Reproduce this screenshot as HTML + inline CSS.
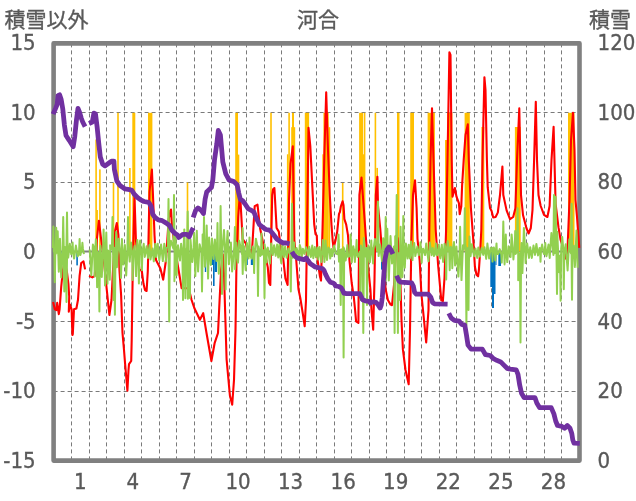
<!DOCTYPE html>
<html><head><meta charset="utf-8"><title>河合</title>
<style>html,body{margin:0;padding:0;background:#fff;}#c{position:relative;width:636px;height:501px;overflow:hidden;background:#fff;}</style>
</head><body><div id="c">
<svg width="636" height="501" viewBox="0 0 636 501" style="position:absolute;left:0;top:0"><line x1="71.5" y1="43.4" x2="71.5" y2="460.6" stroke="#7a7a7a" stroke-width="1" stroke-dasharray="4,3"/><line x1="89.5" y1="43.4" x2="89.5" y2="460.6" stroke="#7a7a7a" stroke-width="1" stroke-dasharray="4,3"/><line x1="106.5" y1="43.4" x2="106.5" y2="460.6" stroke="#7a7a7a" stroke-width="1" stroke-dasharray="4,3"/><line x1="124.5" y1="43.4" x2="124.5" y2="460.6" stroke="#7a7a7a" stroke-width="1" stroke-dasharray="4,3"/><line x1="141.5" y1="43.4" x2="141.5" y2="460.6" stroke="#7a7a7a" stroke-width="1" stroke-dasharray="4,3"/><line x1="159.5" y1="43.4" x2="159.5" y2="460.6" stroke="#7a7a7a" stroke-width="1" stroke-dasharray="4,3"/><line x1="176.5" y1="43.4" x2="176.5" y2="460.6" stroke="#7a7a7a" stroke-width="1" stroke-dasharray="4,3"/><line x1="194.5" y1="43.4" x2="194.5" y2="460.6" stroke="#7a7a7a" stroke-width="1" stroke-dasharray="4,3"/><line x1="211.5" y1="43.4" x2="211.5" y2="460.6" stroke="#7a7a7a" stroke-width="1" stroke-dasharray="4,3"/><line x1="229.5" y1="43.4" x2="229.5" y2="460.6" stroke="#7a7a7a" stroke-width="1" stroke-dasharray="4,3"/><line x1="246.5" y1="43.4" x2="246.5" y2="460.6" stroke="#7a7a7a" stroke-width="1" stroke-dasharray="4,3"/><line x1="264.5" y1="43.4" x2="264.5" y2="460.6" stroke="#7a7a7a" stroke-width="1" stroke-dasharray="4,3"/><line x1="281.5" y1="43.4" x2="281.5" y2="460.6" stroke="#7a7a7a" stroke-width="1" stroke-dasharray="4,3"/><line x1="299.5" y1="43.4" x2="299.5" y2="460.6" stroke="#7a7a7a" stroke-width="1" stroke-dasharray="4,3"/><line x1="316.5" y1="43.4" x2="316.5" y2="460.6" stroke="#7a7a7a" stroke-width="1" stroke-dasharray="4,3"/><line x1="334.5" y1="43.4" x2="334.5" y2="460.6" stroke="#7a7a7a" stroke-width="1" stroke-dasharray="4,3"/><line x1="351.5" y1="43.4" x2="351.5" y2="460.6" stroke="#7a7a7a" stroke-width="1" stroke-dasharray="4,3"/><line x1="369.5" y1="43.4" x2="369.5" y2="460.6" stroke="#7a7a7a" stroke-width="1" stroke-dasharray="4,3"/><line x1="386.5" y1="43.4" x2="386.5" y2="460.6" stroke="#7a7a7a" stroke-width="1" stroke-dasharray="4,3"/><line x1="404.5" y1="43.4" x2="404.5" y2="460.6" stroke="#7a7a7a" stroke-width="1" stroke-dasharray="4,3"/><line x1="421.5" y1="43.4" x2="421.5" y2="460.6" stroke="#7a7a7a" stroke-width="1" stroke-dasharray="4,3"/><line x1="439.5" y1="43.4" x2="439.5" y2="460.6" stroke="#7a7a7a" stroke-width="1" stroke-dasharray="4,3"/><line x1="456.5" y1="43.4" x2="456.5" y2="460.6" stroke="#7a7a7a" stroke-width="1" stroke-dasharray="4,3"/><line x1="474.5" y1="43.4" x2="474.5" y2="460.6" stroke="#7a7a7a" stroke-width="1" stroke-dasharray="4,3"/><line x1="491.5" y1="43.4" x2="491.5" y2="460.6" stroke="#7a7a7a" stroke-width="1" stroke-dasharray="4,3"/><line x1="509.5" y1="43.4" x2="509.5" y2="460.6" stroke="#7a7a7a" stroke-width="1" stroke-dasharray="4,3"/><line x1="526.5" y1="43.4" x2="526.5" y2="460.6" stroke="#7a7a7a" stroke-width="1" stroke-dasharray="4,3"/><line x1="544.5" y1="43.4" x2="544.5" y2="460.6" stroke="#7a7a7a" stroke-width="1" stroke-dasharray="4,3"/><line x1="561.5" y1="43.4" x2="561.5" y2="460.6" stroke="#7a7a7a" stroke-width="1" stroke-dasharray="4,3"/><line x1="53.6" y1="112.5" x2="579.5" y2="112.5" stroke="#7a7a7a" stroke-width="1" stroke-dasharray="4,3"/><line x1="53.6" y1="182.5" x2="579.5" y2="182.5" stroke="#7a7a7a" stroke-width="1" stroke-dasharray="4,3"/><line x1="53.6" y1="321.5" x2="579.5" y2="321.5" stroke="#7a7a7a" stroke-width="1" stroke-dasharray="4,3"/><line x1="53.6" y1="391.5" x2="579.5" y2="391.5" stroke="#7a7a7a" stroke-width="1" stroke-dasharray="4,3"/><rect x="53.6" y="43.4" width="525.9" height="417.2" fill="none" stroke="#808080" stroke-width="4.6" stroke-linejoin="round"/><line x1="53.6" y1="251.5" x2="579.5" y2="251.5" stroke="#808080" stroke-width="2"/><rect x="95.3" y="139.5" width="1.6" height="112.0" fill="#FFC000"/><rect x="96.3" y="210.0" width="1.6" height="41.5" fill="#FFC000"/><rect x="99.1" y="169.4" width="1.6" height="82.1" fill="#FFC000"/><rect x="112.7" y="183.0" width="1.6" height="68.5" fill="#FFC000"/><rect x="117.2" y="112.8" width="1.6" height="138.7" fill="#FFC000"/><rect x="129.1" y="168.0" width="1.6" height="83.5" fill="#FFC000"/><rect x="132.3" y="112.8" width="3.0" height="138.7" fill="#FFC000"/><rect x="148.0" y="112.8" width="4.4" height="138.7" fill="#FFC000"/><rect x="168.7" y="210.0" width="1.6" height="41.5" fill="#FFC000"/><rect x="186.7" y="182.5" width="1.6" height="69.0" fill="#FFC000"/><rect x="235.2" y="112.8" width="2.8" height="138.7" fill="#FFC000"/><rect x="237.7" y="154.6" width="1.6" height="96.9" fill="#FFC000"/><rect x="270.2" y="112.8" width="1.6" height="138.7" fill="#FFC000"/><rect x="286.9" y="154.3" width="1.6" height="97.2" fill="#FFC000"/><rect x="288.3" y="112.8" width="1.6" height="138.7" fill="#FFC000"/><rect x="291.2" y="127.2" width="4.0" height="124.3" fill="#FFC000"/><rect x="292.0" y="112.8" width="2.0" height="138.7" fill="#FFC000"/><rect x="304.8" y="112.8" width="4.3" height="138.7" fill="#FFC000"/><rect x="322.3" y="154.3" width="1.6" height="97.2" fill="#FFC000"/><rect x="323.4" y="112.8" width="5.3" height="138.7" fill="#FFC000"/><rect x="328.6" y="127.2" width="1.6" height="124.3" fill="#FFC000"/><rect x="359.1" y="112.8" width="4.0" height="138.7" fill="#FFC000"/><rect x="362.8" y="154.3" width="1.6" height="97.2" fill="#FFC000"/><rect x="363.8" y="112.8" width="1.6" height="138.7" fill="#FFC000"/><rect x="374.6" y="112.8" width="1.6" height="138.7" fill="#FFC000"/><rect x="341.9" y="183.0" width="1.6" height="68.5" fill="#FFC000"/><rect x="376.4" y="167.9" width="1.6" height="83.6" fill="#FFC000"/><rect x="397.0" y="112.8" width="2.5" height="138.7" fill="#FFC000"/><rect x="410.2" y="112.8" width="3.8" height="138.7" fill="#FFC000"/><rect x="427.6" y="112.8" width="7.3" height="138.7" fill="#FFC000"/><rect x="445.0" y="140.0" width="2.0" height="111.5" fill="#FFC000"/><rect x="447.0" y="112.8" width="5.4" height="138.7" fill="#FFC000"/><rect x="464.6" y="112.8" width="5.2" height="138.7" fill="#FFC000"/><rect x="481.4" y="127.0" width="2.9" height="124.5" fill="#FFC000"/><rect x="514.9" y="127.0" width="5.8" height="124.5" fill="#FFC000"/><rect x="568.0" y="112.8" width="6.5" height="138.7" fill="#FFC000"/><rect x="61.5" y="251.5" width="1.0" height="5.9" fill="#0070C0"/><rect x="76.3" y="251.5" width="1.6" height="13.9" fill="#0070C0"/><rect x="92.0" y="251.5" width="1.0" height="5.5" fill="#0070C0"/><rect x="204.8" y="251.5" width="1.4" height="20.5" fill="#0070C0"/><rect x="210.0" y="251.5" width="3.0" height="13.5" fill="#0070C0"/><rect x="213.0" y="251.5" width="1.6" height="34.5" fill="#0070C0"/><rect x="214.6" y="251.5" width="2.4" height="20.5" fill="#0070C0"/><rect x="246.3" y="251.5" width="1.5" height="13.5" fill="#0070C0"/><rect x="250.8" y="251.5" width="3.0" height="13.5" fill="#0070C0"/><rect x="381.0" y="251.5" width="1.5" height="18.1" fill="#0070C0"/><rect x="490.3" y="251.5" width="1.7" height="35.5" fill="#0070C0"/><rect x="492.0" y="251.5" width="2.0" height="56.5" fill="#0070C0"/><rect x="494.0" y="251.5" width="1.5" height="42.5" fill="#0070C0"/><rect x="495.5" y="251.5" width="1.0" height="13.5" fill="#0070C0"/><rect x="498.3" y="251.5" width="2.7" height="14.5" fill="#0070C0"/><rect x="558.0" y="251.5" width="1.0" height="3.5" fill="#0070C0"/><polyline points="53.1,302.1 54.8,309.3 56.4,310.1 57.2,302.9 58.8,314.1 59.6,309.3 61.2,287.0 62.8,271.0 64.6,262.0 66.8,271.0 68.4,283.8 69.2,296.5 68.8,311.7 70.0,304.5 71.6,309.3 72.4,335.0 72.8,334.0 74.0,309.3 76.4,308.5 78.0,299.7 79.6,275.8 81.2,263.0 83.5,261.4 85.1,269.4" fill="none" stroke="#FF0000" stroke-width="2.1" stroke-linejoin="round"/><polyline points="89.1,275.8 92.3,277.4 94.7,275.8 96.3,255.0 96.8,240.0 98.9,220.7 100.8,236.7 103.8,260.0 106.6,288.2 109.4,315.0 111.5,300.0 113.0,270.0 114.5,245.0 115.2,230.3 116.8,223.1 118.4,235.0 119.5,271.0 121.1,295.0 122.5,333.0 124.0,350.0 125.0,362.6 126.5,380.0 127.4,390.6 128.5,370.0 129.0,364.2 131.2,361.0 131.7,340.0 132.3,300.0 132.6,280.0 133.0,255.0 134.5,197.0 135.9,240.0 137.9,258.2 139.5,269.4 141.8,271.0 143.5,283.8 145.0,290.0 146.6,291.0 147.8,271.0 148.2,255.0 149.5,192.0 151.9,169.6 153.5,208.0 154.5,235.0 156.0,260.0 160.4,268.4 163.2,279.7 166.0,260.0 168.7,219.0 171.0,209.5 171.9,224.0 174.5,245.8 178.8,271.2 181.6,288.2 188.7,288.2 191.6,300.0 194.3,308.0 199.9,319.8 203.2,313.2 206.5,333.0 211.4,361.0 214.7,342.8 218.0,333.0 219.6,300.0 221.2,268.4 222.8,254.3 224.0,274.0 226.6,359.3 229.9,395.5 232.2,404.7 234.0,380.0 235.5,330.0 236.5,261.0 238.2,217.0 239.5,199.0 240.6,203.0 242.6,239.0 245.8,243.3 247.6,251.4 250.2,249.9 251.9,252.8 254.7,206.1 257.5,204.7 260.0,228.0 262.3,239.0 265.6,256.5 267.8,267.4 269.0,283.0 270.3,285.0 272.2,195.0 273.1,189.2 274.4,188.0 276.6,228.0 278.8,231.6 281.0,249.9 283.2,258.6 285.4,278.4 287.6,285.0 289.0,200.0 290.5,163.9 292.8,146.3 294.3,240.0 296.3,261.0 298.5,289.4 300.3,298.0 302.8,313.7 304.7,326.3 306.0,300.0 307.5,200.0 308.5,127.8 310.3,146.0 311.6,172.0 312.9,198.0 314.2,224.0 315.5,234.0 316.8,235.6 317.7,261.0 319.9,276.2 321.0,280.6 322.5,230.0 324.5,150.0 326.2,92.4 328.0,150.0 329.8,195.0 331.5,225.0 332.7,240.8 333.6,248.0 335.4,240.8 337.2,231.8 339.0,213.9 339.9,212.0 340.8,206.7 342.6,201.3 343.5,204.9 344.4,219.2 346.2,224.6 348.0,235.4 348.9,250.0 349.5,261.0 351.7,283.0 353.9,298.0 355.1,310.0 356.1,321.4 358.4,323.0 359.4,195.0 361.5,177.5 363.8,208.2 366.0,239.0 368.2,267.4 370.4,289.4 371.5,310.0 373.2,329.6 374.5,280.0 375.8,195.0 377.4,176.7 378.0,206.0 380.2,228.0 382.4,256.5 385.7,289.4 387.9,300.0 390.6,304.6 392.0,305.2 394.0,285.0 396.0,250.0 397.5,238.0 399.0,250.0 400.5,285.0 401.5,320.0 402.9,349.4 405.5,370.0 408.7,384.3 410.0,330.0 411.4,240.0 413.0,195.0 415.0,180.4 416.6,208.0 417.5,239.0 419.7,261.0 421.4,294.0 423.0,310.0 426.2,342.4 428.5,310.0 429.3,230.0 430.5,160.0 432.0,108.4 433.5,160.0 435.7,230.0 438.1,265.0 441.3,300.3 442.9,301.0 444.5,278.0 446.1,230.0 447.5,160.0 449.4,52.2 450.5,55.0 451.7,160.0 452.5,196.7 454.9,188.0 456.5,196.7 458.9,203.1 459.7,214.3 461.3,206.3 462.1,185.6 463.7,160.0 465.5,135.0 467.8,124.4 468.8,160.0 470.9,208.0 473.3,240.0 474.9,266.7 476.5,274.7 478.1,276.3 478.9,270.0 480.5,246.0 481.3,230.0 482.5,160.0 484.4,77.2 485.5,90.0 486.9,160.0 487.7,187.2 490.0,208.0 491.6,211.1 493.2,217.5 495.6,217.0 497.8,212.6 500.0,195.0 502.4,166.5 503.3,195.0 506.6,210.4 510.0,219.2 513.2,217.0 515.4,208.2 517.0,160.0 519.3,108.4 521.0,195.0 523.0,215.0 526.4,228.0 528.6,233.5 530.8,228.0 532.5,210.0 534.1,160.0 535.8,101.7 537.0,160.0 538.5,195.0 540.7,206.0 544.0,214.8 547.4,217.0 549.6,206.0 551.5,160.0 553.6,126.7 555.6,204.0 558.5,227.4 560.6,240.0 563.9,250.0 566.0,258.8 567.5,250.0 569.5,200.0 571.0,140.0 573.0,112.7 574.5,150.0 575.5,200.0 577.0,217.0 579.3,247.8" fill="none" stroke="#FF0000" stroke-width="2.1" stroke-linejoin="round"/><polyline points="52.9,248.1 53.4,226.6 53.9,251.8 54.3,247.8 54.8,282.3 55.3,251.0 55.7,254.1 56.2,227.8 56.7,248.5 57.1,252.8 57.7,231.2 58.3,256.0 58.2,250.5 58.8,271.8 59.4,256.3 60.0,238.7 61.2,277.4 62.6,252.9 63.2,217.0 63.8,250.2 63.7,247.1 64.3,291.6 64.9,247.1 65.9,253.3 66.5,302.0 67.1,250.8 66.4,252.4 67.0,212.6 67.6,251.0 68.2,257.6 69.8,243.7 71.2,254.2 72.1,247.8 72.6,242.6 73.1,252.8 74.1,258.6 75.9,245.6 77.7,256.3 79.0,253.5 79.6,239.0 80.2,253.0 80.4,255.1 81.9,248.8 82.4,242.8 82.9,248.4 83.9,254.2" fill="none" stroke="#92D050" stroke-width="2.0" stroke-linejoin="round"/><polyline points="89.7,249.5 91.3,275.4 92.9,244.5 94.1,248.0 94.7,276.6 95.3,248.3 95.9,239.3 96.6,250.5 97.1,287.3 97.6,252.0 98.8,253.4 99.4,311.5 100.0,251.7 100.5,245.7 101.8,277.0 103.1,248.0 103.6,229.4 104.1,248.0 104.5,247.9 105.0,285.6 105.5,247.5 105.8,247.7 106.3,232.6 106.8,254.5 107.0,250.3 107.5,283.7 108.0,250.4 109.2,255.0 109.8,279.7 110.4,256.4 110.1,245.3 111.9,249.1 112.5,217.0 113.1,254.8 113.1,246.7 113.7,300.0 114.3,256.0 114.3,248.0 114.9,314.8 115.5,251.9 116.2,231.9 116.9,267.3 118.6,238.7 120.4,254.6 121.0,278.0 121.6,256.3 121.9,238.9 123.2,264.5 124.9,245.0 126.2,275.4 127.4,250.1 128.0,217.0 128.6,248.7 129.7,261.6 131.0,242.6 132.2,254.8 132.7,279.9 133.2,253.8 134.6,245.9 136.1,276.1 137.3,239.9 138.4,254.0 138.9,283.6 139.4,248.7 140.1,240.6 141.4,255.3 141.9,270.1 142.4,252.7 143.7,243.8 144.8,256.9 146.6,246.3 148.0,257.9 149.5,244.9 150.5,259.5 152.5,248.6 153.8,261.3 155.2,243.8 156.2,256.9 157.7,243.7 159.3,260.3 161.1,244.6 162.8,261.1 164.3,243.7 165.4,251.0 165.9,261.5 166.4,248.1 167.9,247.2 168.5,199.0 169.1,253.2 168.6,255.5 169.2,321.4 169.8,248.0 170.9,240.8 173.4,248.7 174.0,195.0 174.6,256.0 174.4,281.3 175.5,235.1 176.6,275.2 178.0,245.3 180.0,260.4 181.1,243.7 182.4,254.3 183.0,300.0 183.6,249.2 184.3,229.4 184.9,252.1 185.4,298.2 185.9,253.1 187.1,247.1 187.7,211.5 188.3,253.4 187.4,252.6 187.9,298.7 188.4,253.9 189.3,255.1 189.9,298.0 190.5,247.2 190.5,239.6 192.3,261.9 193.6,247.9 194.1,233.1 194.6,249.1 195.3,276.1 196.3,247.6 196.8,230.7 197.3,249.5 198.1,271.4 199.6,244.2 201.4,251.5 202.0,291.6 202.6,254.8 202.6,234.6 203.4,254.8 204.0,217.0 204.6,253.6 204.9,266.8 206.2,249.5 206.7,225.4 207.2,248.8 208.1,278.6 209.1,237.4 210.8,264.9 212.0,238.5 213.5,259.0 214.9,239.5 216.4,261.0 217.0,249.4 217.5,223.0 218.0,252.2 218.8,273.8 220.0,250.4 220.6,206.0 221.2,249.8 221.5,252.6 222.0,294.0 222.5,247.9 224.0,229.9 225.1,251.5 225.6,289.6 226.1,254.2 227.6,230.9 228.8,264.2 230.9,242.6 232.1,271.4 234.3,246.5 234.9,227.0 235.5,254.5 235.1,269.3 236.4,242.8 238.0,262.6 239.2,240.8 242.0,254.2 242.6,228.0 243.2,252.7 242.2,249.5 242.7,274.0 243.2,253.4 244.0,246.3 245.7,270.2 246.9,243.1 248.6,258.5 249.0,254.1 249.5,237.5 250.0,255.2 251.6,258.7 252.8,246.6 253.6,251.6 254.1,273.1 254.6,254.6 255.9,238.7 257.4,246.5 258.0,296.0 258.6,251.4 258.6,246.6 260.3,255.9 261.0,253.2 261.5,233.6 262.0,254.7 263.9,250.2 264.5,298.0 265.1,250.4 264.6,244.3 266.0,254.2 266.5,262.4 267.0,249.8 267.8,247.6 269.9,263.5 271.2,243.4 272.8,255.1 274.1,245.2 275.7,255.8 277.1,244.6 278.2,257.4 279.0,249.2 279.5,244.3 280.0,254.7 281.3,263.0 282.0,248.2 282.5,244.2 283.0,250.2 284.0,257.0 285.1,246.7 286.6,257.7 288.4,248.5 290.2,255.1 290.8,291.6 291.4,248.7 291.4,249.0 292.0,203.8 292.6,250.5 292.9,257.8 293.6,254.7 294.1,242.4 294.6,251.3 294.8,254.9 295.3,258.4 295.8,254.1 296.6,248.1 298.9,256.9 299.8,245.0 301.0,249.4 301.5,260.1 302.0,254.9 302.9,248.8 304.4,253.9 306.1,247.2 307.3,251.2 307.8,258.0 308.3,255.2 309.2,246.7 310.9,257.0 312.2,245.5 313.3,258.2 314.8,247.0 315.9,257.2 317.4,247.5 318.3,259.6 319.6,247.0 321.4,262.0 322.8,240.1 323.9,254.7 324.4,262.0 324.9,254.6 325.5,240.5 327.0,260.0 328.4,247.5 329.7,250.3 330.2,258.6 330.7,255.1 331.3,248.9 332.4,256.0 334.2,245.5 335.8,253.6 337.9,254.2 338.5,234.5 339.1,246.9 338.5,249.6 339.0,261.6 339.5,253.5 340.1,249.9 340.7,305.0 341.3,249.2 343.0,252.7 343.6,357.6 344.2,249.1 343.5,247.4 345.7,260.5 347.4,244.9 348.2,256.9 350.0,255.8 350.6,234.5 351.2,248.3 351.8,262.2 353.3,246.2 354.4,253.5 354.9,262.0 355.4,249.5 356.1,250.1 356.6,239.9 357.1,255.3 357.6,257.1 359.9,251.5 360.5,300.0 361.1,253.6 360.9,245.4 362.7,254.0 363.3,333.0 363.9,255.0 363.4,249.9 363.9,238.0 364.4,252.0 365.3,256.4 366.4,248.0 367.0,305.0 367.6,255.3 368.5,245.6 369.9,262.1 370.8,254.1 371.3,240.4 371.8,254.2 372.6,248.5 373.1,263.5 373.6,249.0 374.9,239.1 377.4,251.0 378.0,201.6 378.6,249.1 378.6,256.1 380.1,244.6 382.0,261.2 382.7,252.9 383.2,238.2 383.7,249.0 385.1,248.5 385.7,217.0 386.3,254.5 385.3,250.7 385.8,280.4 386.3,251.9 386.8,253.1 387.3,228.7 387.8,250.8 388.8,280.4 390.5,236.1 392.0,263.4 394.0,246.6 394.6,333.0 395.2,255.5 395.2,236.3 396.1,248.1 396.7,195.0 397.3,246.6 397.3,252.9 397.9,333.0 398.5,255.6 399.4,252.7 400.0,300.0 400.6,250.2 400.1,251.7 400.6,226.8 401.1,254.9 402.4,277.1 402.8,255.3 403.3,215.9 403.8,251.4 404.8,267.7 405.9,243.5 407.6,258.5 408.7,244.7 409.4,253.3 409.9,258.4 410.4,254.7 411.0,241.4 412.0,251.9 412.5,260.1 413.0,252.5 414.2,243.0 415.3,256.1 417.4,246.4 418.8,255.3 420.0,248.2 420.5,242.2 421.0,251.0 421.2,248.2 421.7,262.8 422.2,253.4 423.2,248.8 425.1,255.1 426.2,243.4 428.5,261.3 429.8,242.6 431.6,255.2 432.7,248.1 434.0,256.0 435.4,248.8 435.9,243.6 436.4,255.0 437.4,255.3 438.8,244.7 440.3,258.4 441.8,244.7 443.1,261.9 444.6,243.7 445.7,249.5 446.2,279.5 446.7,252.6 447.7,241.1 449.2,252.4 449.7,270.3 450.2,251.0 450.7,246.7 451.8,250.3 452.3,268.3 452.8,248.4 454.0,242.0 455.1,265.4 456.4,246.5 458.4,276.6 459.6,252.0 460.1,226.7 460.6,250.3 461.5,280.1 463.0,245.2 464.2,248.9 464.8,208.2 465.4,247.1 465.8,246.6 466.4,324.9 467.0,252.0 467.9,247.9 468.5,310.0 469.1,248.5 469.5,236.6 470.6,256.2 471.8,244.2 474.1,256.2 475.5,248.5 477.2,257.9 478.3,247.5 479.9,256.6 481.7,248.0 483.2,254.9 484.5,247.3 486.2,258.8 487.4,243.5 489.1,258.5 490.7,247.7 492.0,248.7 492.5,261.6 493.0,247.7 493.9,247.6 494.8,252.6 495.3,260.5 495.8,253.1 496.0,250.4 496.5,243.4 497.0,254.0 498.4,253.9 499.7,249.1 501.2,254.0 501.7,262.6 502.2,252.6 502.7,252.8 503.3,221.4 503.9,249.4 504.1,249.1 504.6,264.4 505.1,250.1 505.3,249.8 505.8,234.5 506.3,253.2 507.3,262.1 508.6,246.3 510.6,257.0 511.6,234.4 512.9,249.1 513.4,259.5 513.9,253.6 514.7,251.4 515.2,231.1 515.7,253.9 517.0,251.4 517.6,208.2 518.2,250.0 518.2,280.2 519.9,253.5 520.5,342.4 521.1,251.5 521.5,243.0 522.4,273.1 523.9,227.9 525.1,249.6 525.6,263.1 526.1,254.7 527.2,243.6 529.0,257.9 530.2,247.2 531.8,257.9 533.5,245.6 535.0,254.9 536.4,243.9 538.0,255.4 539.5,248.1 540.0,248.3 540.5,261.8 541.0,250.6 542.1,244.6 543.9,254.1 544.8,253.8 545.3,243.1 545.8,253.0 546.5,256.2 548.5,244.6 549.7,257.9 551.4,233.0 553.4,255.0 554.0,195.0 554.6,253.3 555.0,251.0 555.6,196.8 556.2,249.6 556.4,247.5 557.0,294.0 557.6,250.7 557.2,231.7 559.1,272.2 560.0,255.8 560.6,300.7 561.2,248.3 562.2,236.9 563.3,248.8 563.8,289.2 564.3,253.8 565.7,244.3 567.6,270.5 569.3,239.2 571.0,253.3 571.6,203.8 572.2,250.4 571.5,250.3 572.0,299.7 572.5,248.0 573.7,245.7 574.9,266.9 576.5,230.4 577.6,267.8" fill="none" stroke="#92D050" stroke-width="2.0" stroke-linejoin="round"/><polyline points="53.1,114.2 53.5,113.2 55.6,108.4 57.2,104.4 58.0,95.6 59.6,94.8 61.2,99.6 62.8,109.2 64.4,125.1 66.0,135.5 69.2,140.3 73.2,146.7 74.8,136.3 76.4,120.4 78.0,108.4 79.6,112.4 81.2,118.0 82.7,122.0 85.1,126.7" fill="none" stroke="#7030A0" stroke-width="4.8" stroke-linejoin="round" stroke-linecap="butt"/><polyline points="89.1,123.5 92.3,122.0 93.9,113.2 95.5,114.0 97.1,126.7 98.7,142.7 100.3,157.1 102.7,164.3 105.1,165.9 108.3,163.5 111.5,161.1 113.9,161.1 114.4,169.6 116.8,180.8 120.0,185.6 124.7,188.8 129.5,189.6 131.9,190.4 134.3,194.3 137.5,197.5 140.7,199.9 143.9,201.5 148.7,202.3 151.1,206.3 152.7,214.3 155.1,217.5 158.3,219.9 162.3,220.7 166.3,223.1 169.5,225.5 171.9,230.3 175.1,233.5 177.5,235.1 178.8,237.5 182.8,234.3 186.8,234.3 189.2,236.7 191.6,231.1 193.2,227.9" fill="none" stroke="#7030A0" stroke-width="4.8" stroke-linejoin="round" stroke-linecap="butt"/><polyline points="193.2,217.5 195.6,210.4 198.0,208.0 201.2,210.4 203.5,213.5 205.1,199.2 206.7,192.0 209.1,189.6 211.5,187.2 212.8,180.0 214.5,160.0 216.8,143.9 218.3,130.5 220.4,135.0 222.8,161.9 225.8,173.9 229.1,180.0 233.9,181.6 237.1,184.8 238.7,192.8 240.3,199.2 242.7,200.8 245.1,204.0 248.3,208.8 251.5,210.4 253.9,212.0 256.3,218.3 259.5,224.7 262.7,227.1 265.8,229.5 269.6,230.2 272.0,232.6 274.4,235.8 276.8,239.0 280.0,241.4 283.2,243.0 286.4,243.0 289.6,243.8" fill="none" stroke="#7030A0" stroke-width="4.8" stroke-linejoin="round" stroke-linecap="butt"/><polyline points="291.9,251.7 294.3,255.7 297.5,258.1 300.7,258.9 303.9,259.7 306.3,258.1 307.9,260.5 310.3,263.7 312.7,265.3 315.1,266.9 318.3,267.7 322.3,268.5 323.9,270.1 325.5,274.1 327.9,278.9 330.3,282.1 332.2,282.7 334.4,283.8 335.5,286.0 338.8,286.5 341.0,287.6 342.7,290.4 343.8,293.1 346.5,293.7 359.7,293.7 361.4,297.0 362.5,299.7 365.2,300.8 369.1,301.4 370.2,303.0 372.4,301.9 374.6,301.9 376.2,302.5 378.4,305.2 380.1,308.0 381.2,305.2 382.3,297.5 383.4,281.0 384.9,259.9 386.9,249.9 388.9,247.0 390.9,249.9 392.9,254.0" fill="none" stroke="#7030A0" stroke-width="4.8" stroke-linejoin="round" stroke-linecap="butt"/><polyline points="396.6,275.6 399.0,281.0 400.8,282.2 411.6,282.8 413.4,286.4 414.6,292.4 416.4,294.2 428.4,294.2 430.8,297.2 432.6,302.6 434.4,303.8 447.6,304.1" fill="none" stroke="#7030A0" stroke-width="4.8" stroke-linejoin="round" stroke-linecap="butt"/><polyline points="448.8,313.2 451.2,318.0 454.4,320.4 459.2,321.2 461.6,324.3 464.8,325.1 466.4,334.7 468.0,345.1 471.1,349.1 482.3,349.1 485.5,354.7 490.3,355.5 493.5,358.7 496.7,360.3 500.7,361.9 503.9,365.1 507.1,368.3 510.3,369.1 516.2,369.9 518.0,374.4 519.7,385.1 521.5,393.2 524.2,397.7 535.0,397.7 536.8,403.1 539.5,407.6 551.2,407.6 553.9,413.9 555.7,421.0 557.5,425.5 561.9,426.4 564.6,428.2 567.3,425.5 570.0,428.2 571.8,433.6 572.8,440.0 574.0,443.2 579.8,443.4" fill="none" stroke="#7030A0" stroke-width="4.8" stroke-linejoin="round" stroke-linecap="butt"/></svg>
<svg width="636" height="501" style="position:absolute;left:0;top:0" fill="#595959"><text x="35.7" y="50.1" font-size="22" text-anchor="end" font-family='"DejaVu Sans Condensed","DejaVu Sans","Liberation Sans",sans-serif' font-weight="400" stroke="#595959" stroke-width="0.35">15</text><text x="35.7" y="119.7" font-size="22" text-anchor="end" font-family='"DejaVu Sans Condensed","DejaVu Sans","Liberation Sans",sans-serif' font-weight="400" stroke="#595959" stroke-width="0.35">10</text><text x="35.7" y="189.3" font-size="22" text-anchor="end" font-family='"DejaVu Sans Condensed","DejaVu Sans","Liberation Sans",sans-serif' font-weight="400" stroke="#595959" stroke-width="0.35">5</text><text x="35.7" y="258.9" font-size="22" text-anchor="end" font-family='"DejaVu Sans Condensed","DejaVu Sans","Liberation Sans",sans-serif' font-weight="400" stroke="#595959" stroke-width="0.35">0</text><text x="35.7" y="328.5" font-size="22" text-anchor="end" font-family='"DejaVu Sans Condensed","DejaVu Sans","Liberation Sans",sans-serif' font-weight="400" stroke="#595959" stroke-width="0.35">-5</text><text x="35.7" y="398.1" font-size="22" text-anchor="end" font-family='"DejaVu Sans Condensed","DejaVu Sans","Liberation Sans",sans-serif' font-weight="400" stroke="#595959" stroke-width="0.35">-10</text><text x="35.7" y="467.7" font-size="22" text-anchor="end" font-family='"DejaVu Sans Condensed","DejaVu Sans","Liberation Sans",sans-serif' font-weight="400" stroke="#595959" stroke-width="0.35">-15</text><text x="597.6" y="50.1" font-size="22" text-anchor="start" font-family='"DejaVu Sans Condensed","DejaVu Sans","Liberation Sans",sans-serif' font-weight="400" stroke="#595959" stroke-width="0.35">120</text><text x="597.6" y="119.7" font-size="22" text-anchor="start" font-family='"DejaVu Sans Condensed","DejaVu Sans","Liberation Sans",sans-serif' font-weight="400" stroke="#595959" stroke-width="0.35">100</text><text x="597.6" y="189.3" font-size="22" text-anchor="start" font-family='"DejaVu Sans Condensed","DejaVu Sans","Liberation Sans",sans-serif' font-weight="400" stroke="#595959" stroke-width="0.35">80</text><text x="597.6" y="258.9" font-size="22" text-anchor="start" font-family='"DejaVu Sans Condensed","DejaVu Sans","Liberation Sans",sans-serif' font-weight="400" stroke="#595959" stroke-width="0.35">60</text><text x="597.6" y="328.5" font-size="22" text-anchor="start" font-family='"DejaVu Sans Condensed","DejaVu Sans","Liberation Sans",sans-serif' font-weight="400" stroke="#595959" stroke-width="0.35">40</text><text x="597.6" y="398.1" font-size="22" text-anchor="start" font-family='"DejaVu Sans Condensed","DejaVu Sans","Liberation Sans",sans-serif' font-weight="400" stroke="#595959" stroke-width="0.35">20</text><text x="597.6" y="467.7" font-size="22" text-anchor="start" font-family='"DejaVu Sans Condensed","DejaVu Sans","Liberation Sans",sans-serif' font-weight="400" stroke="#595959" stroke-width="0.35">0</text><text x="80.4" y="489" font-size="22" text-anchor="middle" font-family='"DejaVu Sans Condensed","DejaVu Sans","Liberation Sans",sans-serif' font-weight="400" stroke="#595959" stroke-width="0.35">1</text><text x="132.9" y="489" font-size="22" text-anchor="middle" font-family='"DejaVu Sans Condensed","DejaVu Sans","Liberation Sans",sans-serif' font-weight="400" stroke="#595959" stroke-width="0.35">4</text><text x="185.5" y="489" font-size="22" text-anchor="middle" font-family='"DejaVu Sans Condensed","DejaVu Sans","Liberation Sans",sans-serif' font-weight="400" stroke="#595959" stroke-width="0.35">7</text><text x="238.1" y="489" font-size="22" text-anchor="middle" font-family='"DejaVu Sans Condensed","DejaVu Sans","Liberation Sans",sans-serif' font-weight="400" stroke="#595959" stroke-width="0.35">10</text><text x="290.6" y="489" font-size="22" text-anchor="middle" font-family='"DejaVu Sans Condensed","DejaVu Sans","Liberation Sans",sans-serif' font-weight="400" stroke="#595959" stroke-width="0.35">13</text><text x="343.2" y="489" font-size="22" text-anchor="middle" font-family='"DejaVu Sans Condensed","DejaVu Sans","Liberation Sans",sans-serif' font-weight="400" stroke="#595959" stroke-width="0.35">16</text><text x="395.7" y="489" font-size="22" text-anchor="middle" font-family='"DejaVu Sans Condensed","DejaVu Sans","Liberation Sans",sans-serif' font-weight="400" stroke="#595959" stroke-width="0.35">19</text><text x="448.3" y="489" font-size="22" text-anchor="middle" font-family='"DejaVu Sans Condensed","DejaVu Sans","Liberation Sans",sans-serif' font-weight="400" stroke="#595959" stroke-width="0.35">22</text><text x="500.9" y="489" font-size="22" text-anchor="middle" font-family='"DejaVu Sans Condensed","DejaVu Sans","Liberation Sans",sans-serif' font-weight="400" stroke="#595959" stroke-width="0.35">25</text><text x="553.4" y="489" font-size="22" text-anchor="middle" font-family='"DejaVu Sans Condensed","DejaVu Sans","Liberation Sans",sans-serif' font-weight="400" stroke="#595959" stroke-width="0.35">28</text><text x="318" y="26.5" font-size="21" text-anchor="middle" font-family='"Liberation Sans","Noto Sans CJK JP",sans-serif' font-weight="400" stroke="#595959" stroke-width="0.35">河合</text><text x="4.5" y="26.5" font-size="21" text-anchor="start" font-family='"Liberation Sans","Noto Sans CJK JP",sans-serif' font-weight="400" stroke="#595959" stroke-width="0.35">積雪以外</text><text x="589" y="26.5" font-size="21" text-anchor="start" font-family='"Liberation Sans","Noto Sans CJK JP",sans-serif' font-weight="400" stroke="#595959" stroke-width="0.35">積雪</text></svg>
</div></body></html>
